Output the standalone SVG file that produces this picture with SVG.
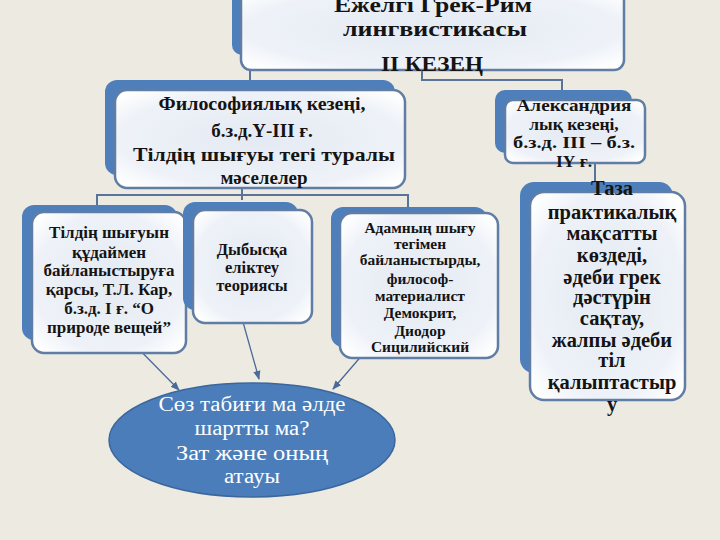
<svg xmlns="http://www.w3.org/2000/svg" width="720" height="540" viewBox="0 0 720 540">
<defs>
<radialGradient id="g" cx="50%" cy="50%" r="65%">
<stop offset="0" stop-color="#E4EAF3"/>
<stop offset="0.75" stop-color="#EEF2F8"/>
<stop offset="1" stop-color="#FFFFFF"/>
</radialGradient>
<marker id="ah" viewBox="0 0 10 10" refX="9" refY="5" markerWidth="7" markerHeight="7" orient="auto-start-reverse">
<path d="M0,1 L10,5 L0,9 z" fill="#4A6A98"/>
</marker>
</defs>
<style>
.back{fill:#4F7FBA;}
.front{fill:url(#g);stroke:#5F7DA5;stroke-width:2.5;}
.t{font-family:"Liberation Serif","DejaVu Serif",serif;font-weight:bold;fill:#141414;text-anchor:middle;}
.w{font-family:"Liberation Serif","DejaVu Serif",serif;fill:#FFFFFF;text-anchor:middle;}
.c{fill:none;stroke:#5A7399;stroke-width:2;}
.a{fill:none;stroke:#4A6A98;stroke-width:1.3;marker-end:url(#ah);}
</style>
<rect width="720" height="540" fill="#EDEAE2"/>

<g id="connectors">
<path class="c" d="M250 70 V82"/>
<path class="c" d="M422 70 V80 H562 V100"/>
<path class="c" d="M242 188 V200"/>
<path class="c" d="M97 205 V195 H408 V213"/>
<path class="c" d="M595 163 V192"/>
<line class="a" x1="122" y1="332" x2="179" y2="390"/>
<line class="a" x1="236" y1="297" x2="259" y2="379"/>
<line class="a" x1="388" y1="325" x2="333" y2="389"/>
</g>

<g id="top">
<rect class="back" x="232" y="-20" width="380" height="75" rx="10"/>
<rect class="front" x="241" y="-12" width="383" height="82" rx="10"/>
<text class="t" x="433" y="12" font-size="22" textLength="198" lengthAdjust="spacingAndGlyphs">Ежелгі Грек-Рим</text>
<text class="t" x="435" y="36" font-size="22" textLength="184" lengthAdjust="spacingAndGlyphs">лингвистикасы</text>
<text class="t" x="432" y="71" font-size="22" textLength="102" lengthAdjust="spacingAndGlyphs">ІІ КЕЗЕҢ</text>
</g>

<g id="philosophy">
<rect class="back" x="105" y="80" width="290" height="95" rx="12"/>
<rect class="front" x="115" y="90" width="290" height="98" rx="12"/>
<text class="t" x="262" y="110" font-size="19" textLength="207" lengthAdjust="spacingAndGlyphs">Философиялық кезеңі,</text>
<text class="t" x="262" y="137" font-size="19">б.з.д.Ү-ІІІ ғ.</text>
<text class="t" x="264" y="161" font-size="19" textLength="262" lengthAdjust="spacingAndGlyphs">Тілдің шығуы тегі туралы</text>
<text class="t" x="264" y="184" font-size="19">мәселелер</text>
</g>

<g id="divine">
<rect class="back" x="22" y="205" width="155" height="135" rx="12"/>
<rect class="front" x="32" y="212" width="154" height="141" rx="12"/>
<text class="t" x="109" y="238" font-size="17">Тілдің шығуын</text>
<text class="t" x="109" y="258" font-size="17">құдаймен</text>
<text class="t" x="109" y="276" font-size="17">байланыстыруға</text>
<text class="t" x="109" y="295" font-size="17">қарсы, Т.Л. Кар,</text>
<text class="t" x="109" y="314" font-size="17">б.з.д. І ғ.  “О</text>
<text class="t" x="109" y="333" font-size="17">природе вещей”</text>
</g>

<g id="onomatopoeia">
<rect class="back" x="183" y="202" width="115" height="108" rx="12"/>
<rect class="front" x="193" y="210" width="119" height="113" rx="12"/>
<text class="t" x="252" y="255" font-size="16.5">Дыбысқа</text>
<text class="t" x="252" y="273" font-size="16.5">еліктеу</text>
<text class="t" x="252" y="291" font-size="16.5">теориясы</text>
</g>

<g id="human">
<rect class="back" x="331" y="207" width="156" height="140" rx="12"/>
<rect class="front" x="340" y="213" width="158" height="145" rx="12"/>
<text class="t" x="420" y="233" font-size="15.5">Адамның шығу</text>
<text class="t" x="420" y="249" font-size="15.5">тегімен</text>
<text class="t" x="420" y="265" font-size="15.5">байланыстырды,</text>
<text class="t" x="420" y="284" font-size="15.5">философ-</text>
<text class="t" x="420" y="301" font-size="15.5">материалист</text>
<text class="t" x="420" y="318" font-size="15.5">Демокрит,</text>
<text class="t" x="420" y="336" font-size="15.5">Диодор</text>
<text class="t" x="420" y="352" font-size="15.5">Сицилийский</text>
</g>

<g id="question">
<ellipse cx="252" cy="440" rx="143" ry="57" fill="#4A7DBA" stroke="#3B679C" stroke-width="1.5"/>
<text class="w" x="252" y="411" font-size="20.5" textLength="187" lengthAdjust="spacingAndGlyphs">Сөз табиғи ма әлде</text>
<text class="w" x="252" y="435" font-size="20.5" textLength="115" lengthAdjust="spacingAndGlyphs">шартты ма?</text>
<text class="w" x="252" y="460" font-size="20.5" textLength="152" lengthAdjust="spacingAndGlyphs">Зат  және оның</text>
<text class="w" x="252" y="483" font-size="20.5" textLength="56" lengthAdjust="spacingAndGlyphs">атауы</text>
</g>

<g id="alexandria">
<rect class="back" x="495" y="90" width="137" height="63" rx="10"/>
<rect class="front" x="505" y="100" width="140" height="63" rx="8"/>
<text class="t" x="574" y="111" font-size="17.5" textLength="115" lengthAdjust="spacingAndGlyphs">Александрия</text>
<text class="t" x="574" y="130" font-size="17.5">лық кезеңі,</text>
<text class="t" x="574" y="148" font-size="17.5" textLength="122" lengthAdjust="spacingAndGlyphs">б.з.д. ІІІ – б.з.</text>
<text class="t" x="574" y="167" font-size="17.5">ІҮ ғ.</text>
</g>

<g id="practical">
<rect class="back" x="520" y="182" width="153" height="191" rx="14"/>
<rect class="front" x="530" y="192" width="155" height="208" rx="14"/>
<text class="t" x="612" y="195" font-size="20.5">Таза</text>
<text class="t" x="612" y="219" font-size="20.5">практикалық</text>
<text class="t" x="612" y="240" font-size="20.5">мақсатты</text>
<text class="t" x="612" y="262" font-size="20.5">көздеді,</text>
<text class="t" x="612" y="284" font-size="20.5">әдеби грек</text>
<text class="t" x="612" y="304" font-size="20.5">дәстүрін</text>
<text class="t" x="612" y="325" font-size="20.5">сақтау,</text>
<text class="t" x="612" y="347" font-size="20.5">жалпы әдеби</text>
<text class="t" x="612" y="367" font-size="20.5">тіл</text>
<text class="t" x="612" y="389" font-size="20.5">қалыптастыр</text>
<text class="t" x="612" y="411" font-size="20.5">у</text>
</g>
</svg>
